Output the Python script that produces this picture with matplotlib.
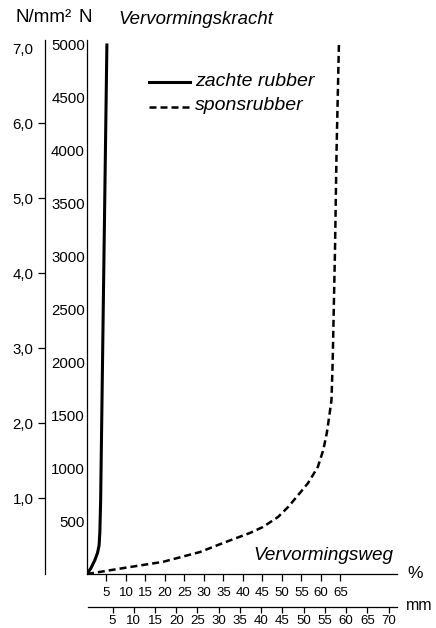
import matplotlib
matplotlib.use('Agg')
import matplotlib.pyplot as plt
from matplotlib.transforms import Affine2D
from matplotlib.lines import Line2D

# curve values: deformation (%) vs force (N)
zacht_pct = [0, 1.0, 2.0, 2.7, 3.1, 3.3, 3.5, 4.2, 5.1]
zacht_N = [0, 55, 130, 200, 270, 400, 700, 2600, 5000]

spons_pct = [0, 10, 19.5, 29, 34.9, 41.8, 45.1, 49.0, 51.6, 54.6, 56.7,
             59.2, 60.6, 61.5, 62.1, 62.7, 63.0, 63.6, 64.0, 64.6]
spons_N = [0, 60, 115, 208, 293, 388, 444, 539, 634, 766, 860,
           1012, 1173, 1333, 1485, 1645, 2000, 3064, 4000, 5000]

N_ticks = [500, 1000, 1500, 2000, 2500, 3000, 3500, 4000, 4500, 5000]
stress_ticks = [1, 2, 3, 4, 5, 6, 7]
stress_labels = ['1,0', '2,0', '3,0', '4,0', '5,0', '6,0', '7,0']
pct_ticks = [5, 10, 15, 20, 25, 30, 35, 40, 45, 50, 55, 60, 65]
mm_ticks = [5, 10, 15, 20, 25, 30, 35, 40, 45, 50, 55, 60, 65, 70]

plt.rcParams['font.family'] = ['Liberation Sans', 'DejaVu Sans']

W, H = 436, 628
fig = plt.figure(figsize=(W / 100, H / 100), dpi=100)
# pixel coordinates, origin top left
px = Affine2D().scale(1 / W, -1 / H).translate(0, 1) + fig.transFigure


def box(l, t, r, b):
    return [l / W, 1 - b / H, (r - l) / W, (b - t) / H]


lw_axis = 0.9
dash = (0, (2.8, 1.6))

#%% main axes: % and N
ax = fig.add_axes(box(87, 40, 397, 574))
ax.patch.set_visible(False)
ax.plot(zacht_pct, zacht_N, color='black', lw=2.2, solid_joinstyle='round')
ax.plot(spons_pct, spons_N, color='black', lw=1.8, linestyle=dash)
ax.set_xlim(0, 79.5)
ax.set_ylim(0, 5047)
ax.spines[['top', 'right']].set_visible(False)
ax.spines[['left', 'bottom']].set_linewidth(lw_axis)
ax.set_xticks(pct_ticks)
ax.set_xticklabels([str(t) for t in pct_ticks])
ax.tick_params(axis='x', direction='out', length=5, width=lw_axis,
               labelsize=9.5, pad=4.5)
ax.set_yticks(N_ticks)
ax.set_yticklabels([str(t) for t in N_ticks])
ax.tick_params(axis='y', length=0, labelsize=10.8, pad=1.5)

#%% outer axis: N/mm2
ax2 = ax.twinx()
ax2.set_ylim(-0.013, 7.107)
ax2.spines[['top', 'right', 'bottom']].set_visible(False)
ax2.spines['left'].set_visible(True)
ax2.spines['left'].set_linewidth(lw_axis)
ax2.spines['left'].set_position(('outward', 30.2))
ax2.yaxis.tick_left()
ax2.set_yticks(stress_ticks)
ax2.set_yticklabels(stress_labels)
ax2.tick_params(axis='y', direction='out', length=4.8, width=lw_axis,
                labelsize=10.8, pad=3.5)
ax2.yaxis.get_major_ticks()[-1].tick1line.set_visible(False)

#%% lower axis: mm
axm = fig.add_axes(box(88, 590, 396.7, 606.7))
axm.patch.set_visible(False)
axm.spines[['top', 'right', 'left']].set_visible(False)
axm.spines['bottom'].set_linewidth(lw_axis)
axm.set_yticks([])
axm.set_xlim(-0.78, 71.9)
axm.set_xticks(mm_ticks)
axm.set_xticklabels([str(t) for t in mm_ticks])
axm.tick_params(axis='x', direction='out', length=4.5, width=lw_axis,
                labelsize=9.5, pad=1.5)

#%% texts
fig.text(15, 18, 'N/mm²', transform=px, fontsize=13.5, va='center', ha='left')
fig.text(85, 18, 'N', transform=px, fontsize=13.5, va='center', ha='center')
fig.text(118, 19, 'Vervormingskracht', transform=px, fontsize=13.4,
         style='italic', va='center', ha='left')
fig.text(393, 555, 'Vervormingsweg', transform=px, fontsize=13.6,
         style='italic', va='center', ha='right')
fig.text(407, 574, '%', transform=px, fontsize=12.5, va='center', ha='left')
fig.text(406, 606, 'mm', transform=px, fontsize=11.5, va='center', ha='left')

# legend
fig.add_artist(Line2D([149, 190], [82, 82], transform=px, color='black', lw=2.2))
fig.add_artist(Line2D([149, 190], [107, 107], transform=px, color='black',
                      lw=1.8, linestyle=dash))
fig.text(195, 82, 'zachte rubber', transform=px, fontsize=14, style='italic',
         va='center', ha='left')
fig.text(195, 106, 'sponsrubber', transform=px, fontsize=14, style='italic',
         va='center', ha='left')

fig.savefig('out.png', dpi=100)
